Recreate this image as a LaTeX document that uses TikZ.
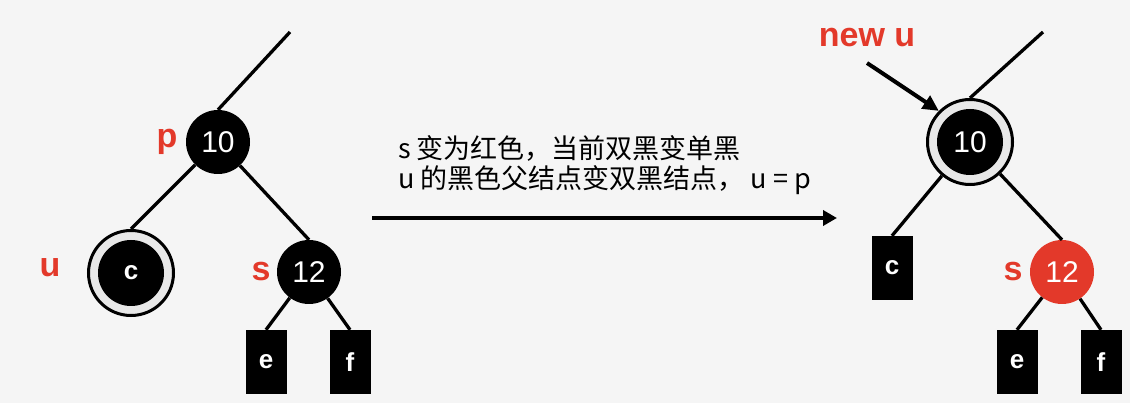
\documentclass[tikz,border=0pt]{standalone}
\usepackage{fontspec}
\setmainfont{Liberation Sans}
\newfontfamily\cjk{Noto Sans CJK SC}
\usetikzlibrary{positioning, arrows.meta}
\definecolor{bgcol}{HTML}{F5F5F5}
\definecolor{rbred}{HTML}{E3392A}
\definecolor{ringgap}{HTML}{E8E8E8}

\begin{document}
\begin{tikzpicture}[x=1pt, y=-1pt, on grid,
        blk/.style={circle, fill=black, minimum size=64pt, inner sep=0pt, text=white, font=\fontsize{30}{30}\selectfont},
        red node/.style={blk, fill=rbred},
        dblk/.style={circle, draw=black, line width=3pt, fill=ringgap, minimum size=85pt, inner sep=0pt, text=white, font=\fontsize{30}{30}\selectfont,
            path picture={\fill[black] (path picture bounding box.center) circle (33pt);}},
        leaf/.style={rectangle, fill=black, minimum width=41pt, minimum height=64pt, inner sep=0pt, text=white, font=\bfseries\fontsize{26}{26}\selectfont},
        lbl/.style={text=rbred, font=\bfseries\fontsize{34}{34}\selectfont, inner sep=0pt},
        msg/.style={font=\cjk\fontsize{27}{30}\selectfont, align=left, inner sep=0pt},
        edge/.style={line width=3.3pt},
        shift arrow/.style={line width=4pt, -{Triangle[length=14pt, width=15pt]}},
        point arrow/.style={line width=4pt, -{Triangle[length=16pt, width=15pt]}}]
            \path[use as bounding box, fill=bgcol] (0,0) rectangle (1130,403);

            \node[blk] (p) at (218,142) {10};
            \node[dblk, below left=131pt and 87pt of p, font=\bfseries\fontsize{26}{26}\selectfont] (u) {c};
            \node[blk, below right=130pt and 91pt of p] (s) {12};
            \node[leaf, below left=90pt and 43pt of s] (e) {e};
            \node[leaf, below right=90pt and 41pt of s] (f) {f};
            \coordinate (ptop) at (290,32);
            \node[lbl, left=51pt of p] (plbl) {p};
            \node[lbl, above left=5pt and 81pt of u] (ulbl) {u};
            \node[lbl, left=48pt of s] (slbl) {s};
            \draw[edge] (p.north) -- (ptop);
            \draw[edge] (p) -- (u.north);
            \draw[edge] (p) -- (s.north);
            \draw[edge] (s) -- (e.north);
            \draw[edge] (s) -- (f.north);

            \coordinate (from) at (372,218);
            \coordinate (to) at (837,218);
            \draw[shift arrow] (from) -- (to);
            \node[msg, anchor=west] (note) at (398,165) {s 变为红色，当前双黑变单黑\\u 的黑色父结点变双黑结点， u = p};

            \node[dblk] (nu) at (970,142) {10};
            \node[leaf, below left=126pt and 78pt of nu] (c) {c};
            \node[red node, below right=130pt and 92pt of nu] (s2) {12};
            \node[leaf, below left=90pt and 45pt of s2] (e2) {e};
            \node[leaf, below right=90pt and 39pt of s2] (f2) {f};
            \coordinate (nutop) at (1043,32);
            \node[lbl, left=49pt of s2] (s2lbl) {s};
            \node[lbl] (newu) at (867,38) {new u};
            \coordinate (nutail) at (867,63);
            \draw[edge] (nu.north) -- (nutop);
            \draw[edge] (nu) -- (c.north);
            \draw[edge] (nu) -- (s2.north);
            \draw[edge] (s2) -- (e2.north);
            \draw[edge] (s2) -- (f2.north);
            \draw[point arrow] (nutail) -- (nu.135);
        \end{tikzpicture}
\end{document}
